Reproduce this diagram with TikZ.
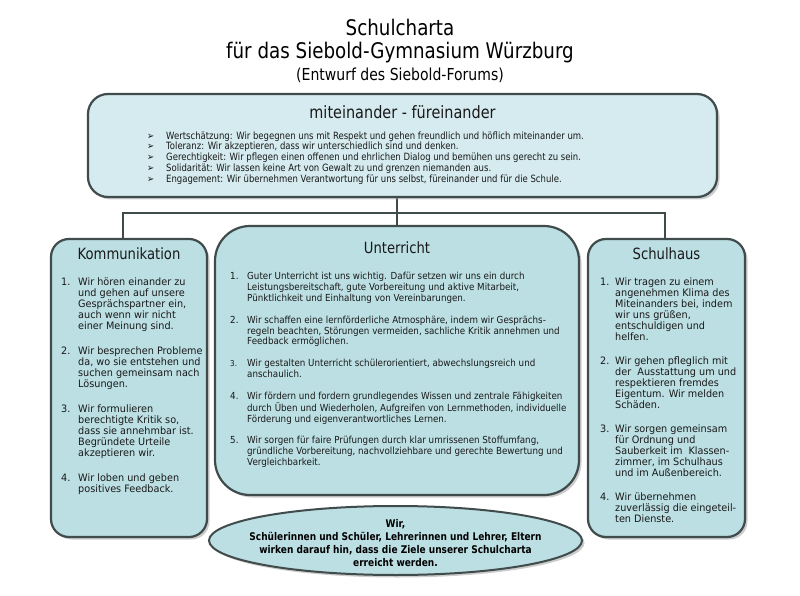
\documentclass[tikz,border=0pt]{standalone}
\usepackage{fontspec}
\setmainfont[FakeStretch=0.85]{DejaVu Sans}
\newfontfamily\breitfont[FakeStretch=0.95]{DejaVu Sans}
\newfontfamily\mittelfont[FakeStretch=0.9]{DejaVu Sans}
\usepackage{xcolor}
\usepackage{tikz}
\usetikzlibrary{positioning,shapes.geometric,shadows,backgrounds}

\definecolor{rand}{HTML}{404B4B}
\definecolor{feld}{HTML}{BCDFE3}
\definecolor{feldhell}{HTML}{D5EBEF}
\newcommand\pfeilfont{\fontsize{10}{8}\selectfont}

\begin{document}
\begin{tikzpicture}[
  x=1pt, y=1pt,
  every node/.style={inner sep=0pt},
  box/.style={draw=rand, line width=2.2pt, fill=feld, rounded corners=18pt,
              drop shadow={shadow xshift=2.5pt, shadow yshift=-2.5pt, fill=black!40}},
  topbox/.style={box, fill=feldhell, rounded corners=20pt},
  oval/.style={ellipse, draw=rand, line width=2pt, fill=feld,
               drop shadow={shadow xshift=2.5pt, shadow yshift=-2.5pt, fill=black!40}},
  ovaltext/.style={align=center, font=\fontsize{10.6}{13.3}\selectfont\bfseries},
  head/.style={font=\fontsize{15.5}{18}\selectfont, text=black!90},
  list/.style={anchor=north west, font=\fontsize{10}{10.9}\selectfont, text=black!90},
  seite/.style={list, font=\breitfont\fontsize{10.2}{10.9}\selectfont},
  titel/.style={align=center, font=\fontsize{21.5}{23}\selectfont},
  link/.style={draw=rand, line width=2pt},
]
\useasboundingbox (0,0) rectangle (800,595);

% =============================================================== title
\node[titel] (titel) at (400,544)
  {Schulcharta\\für das Siebold-Gymnasium Würzburg\\[-1pt]
   {\fontsize{16.5}{20}\selectfont (Entwurf des Siebold-Forums)}};

% =============================================================== values
\node[topbox, minimum width=629pt, minimum height=103pt] (werte) at (402.5,449.5) {};
\node[head, font=\fontsize{17}{18}\selectfont] (wertekopf) at (402.5,483) {miteinander - füreinander};
\node[list, font=\fontsize{10}{10.5}\selectfont] (werteliste) at (147,463.6) {%
  \begin{tabular}{@{}p{19pt}@{}l@{}}
  {\pfeilfont ➢} & Wertschätzung: Wir begegnen uns mit Respekt und gehen freundlich und höflich miteinander um.\\
  {\pfeilfont ➢} & Toleranz: Wir akzeptieren, dass wir unterschiedlich sind und denken.\\
  {\pfeilfont ➢} & Gerechtigkeit: Wir pflegen einen offenen und ehrlichen Dialog und bemühen uns gerecht zu sein.\\
  {\pfeilfont ➢} & Solidarität: Wir lassen keine Art von Gewalt zu und grenzen niemanden aus.\\
  {\pfeilfont ➢} & Engagement: Wir übernehmen Verantwortung für uns selbst, füreinander und für die Schule.
  \end{tabular}};

% =============================================================== three fields
\node[box, minimum width=156pt, minimum height=298pt] (komm) at (129,207) {};
\node[box, minimum width=364pt, minimum height=269pt, rounded corners=35pt] (unter) at (397,234.5) {};
\node[box, minimum width=157pt, minimum height=298pt] (schul) at (666.5,207) {};

\node[head] (kommkopf) at (129,341) {Kommunikation};
\node[head] (unterkopf) at (397,347) {Unterricht};
\node[head] (schulkopf) at (666.5,341) {Schulhaus};

\node[seite] (kommliste) at (61,317.9) {%
  \begin{tabular}{@{}p{17pt}@{}l@{}}
  1. & Wir hören einander zu\\
     & und gehen auf unsere\\
     & Gesprächspartner ein,\\
     & auch wenn wir nicht\\
     & einer Meinung sind.\\[14pt]
  2. & Wir besprechen Probleme\\
     & da, wo sie entstehen und\\
     & suchen gemeinsam nach\\
     & Lösungen.\\[14pt]
  3. & Wir formulieren\\
     & berechtigte Kritik so,\\
     & dass sie annehmbar ist.\\
     & Begründete Urteile\\
     & akzeptieren wir.\\[14pt]
  4. & Wir loben und geben\\
     & positives Feedback.
  \end{tabular}};

\node[list, font=\mittelfont\fontsize{9.7}{10.8}\selectfont] (unterliste) at (230,322.9) {%
  \begin{tabular}{@{}p{17pt}@{}l@{}}
  1. & Guter Unterricht ist uns wichtig. Dafür setzen wir uns ein durch\\
     & Leistungsbereitschaft, gute Vorbereitung und aktive Mitarbeit,\\
     & Pünktlichkeit und Einhaltung von Vereinbarungen.\\[11pt]
  2. & Wir schaffen eine lernförderliche Atmosphäre, indem wir Gesprächs-\\
     & regeln beachten, Störungen vermeiden, sachliche Kritik annehmen und\\
     & Feedback ermöglichen.\\[11pt]
  {\fontsize{8}{8}\selectfont 3.} & Wir gestalten Unterricht schülerorientiert, abwechslungsreich und\\
     & anschaulich.\\[11pt]
  4. & Wir fördern und fordern grundlegendes Wissen und zentrale Fähigkeiten\\
     & durch Üben und Wiederholen, Aufgreifen von Lernmethoden, individuelle\\
     & Förderung und eigenverantwortliches Lernen.\\[11pt]
  5. & Wir sorgen für faire Prüfungen durch klar umrissenen Stoffumfang,\\
     & gründliche Vorbereitung, nachvollziehbare und gerechte Bewertung und\\
     & Vergleichbarkeit.
  \end{tabular}};

\node[seite] (schulliste) at (600,317.9) {%
  \begin{tabular}{@{}p{15pt}@{}l@{}}
  1. & Wir tragen zu einem\\
     & angenehmen Klima des\\
     & Miteinanders bei, indem\\
     & wir uns grüßen,\\
     & entschuldigen und\\
     & helfen.\\[13pt]
  2. & Wir gehen pfleglich mit\\
     & der\ \ Ausstattung um und\\
     & respektieren fremdes\\
     & Eigentum. Wir melden\\
     & Schäden.\\[13pt]
  3. & Wir sorgen gemeinsam\\
     & für Ordnung und\\
     & Sauberkeit im\ \ Klassen-\\
     & zimmer, im Schulhaus\\
     & und im Außenbereich.\\[13pt]
  4. & Wir übernehmen\\
     & zuverlässig die eingeteil-\\
     & ten Dienste.
  \end{tabular}};

% =============================================================== closing oval
\node[oval, minimum width=373pt, minimum height=69pt] (wir) at (395.5,54.5) {};
\node[ovaltext] (wirtext) at (395.5,52)
  {Wir,\\Schülerinnen und Schüler, Lehrerinnen und Lehrer, Eltern\\
   wirken darauf hin, dass die Ziele unserer Schulcharta\\erreicht werden.};

% --- connectors ---
\coordinate (bus) at (397,382);
\begin{scope}[on background layer]
  \draw[link] (werte.south -| bus) -- (bus);
  \draw[link] ([xshift=-6pt]komm.north) |- (bus) -| ([xshift=-1.5pt]schul.north);
  \draw[link] (bus) -- (unter.north);
\end{scope}

\end{tikzpicture}
\end{document}
